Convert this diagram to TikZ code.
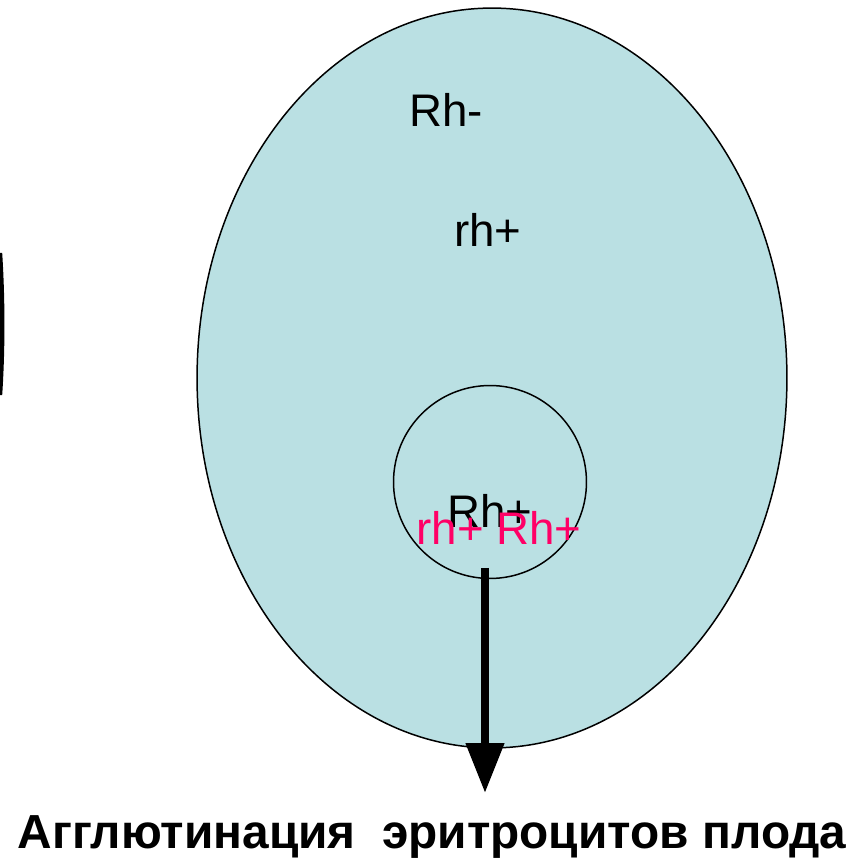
\documentclass[tikz,border=0pt]{standalone}
\usepackage{fontspec}
\setmainfont{Liberation Sans}
\usepackage{tikz}
\usetikzlibrary{positioning,arrows.meta,shapes.geometric}
\definecolor{plasma}{RGB}{186,224,227}
\definecolor{fetal}{RGB}{255,0,102}

\begin{document}
\begin{tikzpicture}[
    x=0.02cm, y=-0.02cm,
    mother/.style={ellipse, draw=black, line width=0.85pt, fill=plasma, minimum width=11.8cm, minimum height=14.8cm, inner sep=0pt},
    fetus/.style={circle, draw=black, line width=0.85pt, minimum size=3.86cm, inner sep=0pt},
    lbl/.style={anchor=base, inner sep=0pt, font=\fontsize{26}{30}\selectfont},
    pink/.style={lbl, text=fetal},
    caption/.style={anchor=base, inner sep=0pt, font=\fontsize{27.2}{32}\selectfont\bfseries},
    arr/.style={-{Triangle[length=1cm, width=0.74cm]}, line width=0.16cm, black},
  ]
  \useasboundingbox (0,0) rectangle (867,858);
  % edge of the shape cut off at the left
  \draw[line width=2.5pt] (0,253) .. controls (3,300) and (3,350) .. (0,395);
  \node[mother] (body) at (492,378) {};
  \node[fetus] (fet) at (490,482) {};
  \node[lbl] (rhneg) at (446,127) {Rh-};
  \node[lbl] (rhpos) at (488,247) {rh+};
  \node[lbl] (rhfet) at (490,528) {Rh+};
  \node[pink] (rhmix) at (499,545) {rh+ Rh+};
  \node[caption] (agg) at (432,849) {Агглютинация\ \ эритроцитов плода};
  \coordinate (from) at (485,568);
  \coordinate (tip) at (485,793);
  \draw[arr] (from) -- (tip);
\end{tikzpicture}
\end{document}
